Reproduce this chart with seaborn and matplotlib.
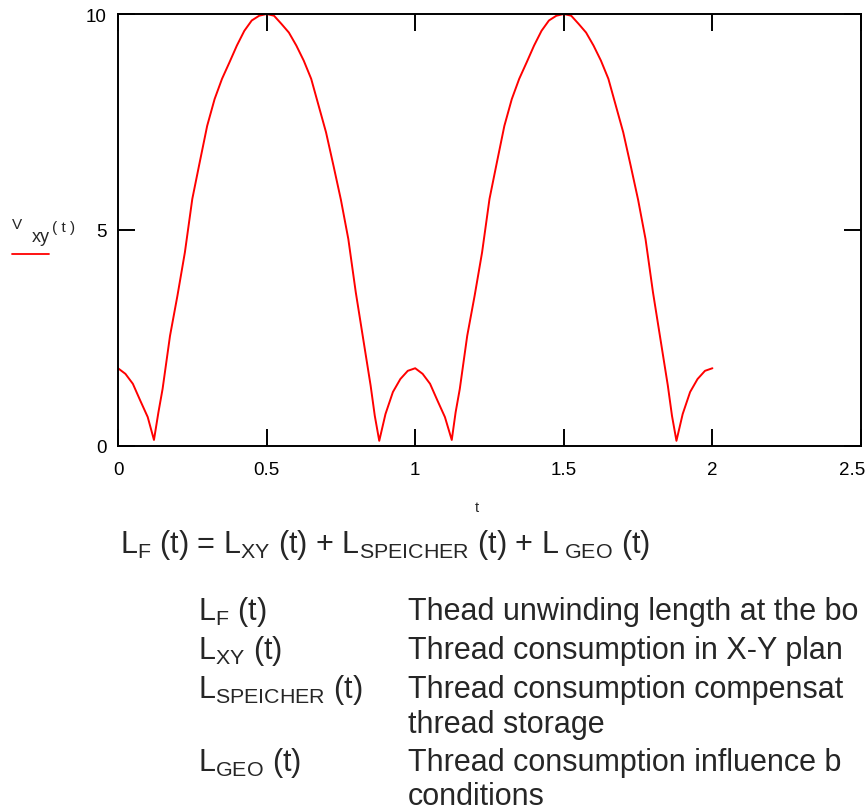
import matplotlib
matplotlib.use("Agg")
import matplotlib.pyplot as plt
from matplotlib import font_manager
from matplotlib.lines import Line2D
from matplotlib.transforms import ScaledTranslation
import pandas as pd
import seaborn as sns

# V_xy(t)
T = [0.0, 0.025, 0.05, 0.075, 0.1, 0.121, 0.136, 0.15, 0.175, 0.2, 0.225,
     0.25, 0.275, 0.3, 0.325, 0.35, 0.375, 0.4, 0.425, 0.45, 0.475, 0.5,
     0.525, 0.55, 0.575, 0.6, 0.625, 0.65, 0.675, 0.7, 0.725, 0.75, 0.775,
     0.8, 0.825, 0.85, 0.864, 0.879, 0.9, 0.925, 0.95, 0.975, 1.0,
     1.025, 1.05, 1.075, 1.1, 1.123, 1.136, 1.15, 1.175, 1.2, 1.225,
     1.25, 1.275, 1.3, 1.325, 1.35, 1.375, 1.4, 1.425, 1.45, 1.475, 1.5,
     1.525, 1.55, 1.575, 1.6, 1.625, 1.65, 1.675, 1.7, 1.725, 1.75, 1.775,
     1.8, 1.825, 1.85, 1.864, 1.879, 1.9, 1.925, 1.95, 1.975, 2.0]
V_XY = [1.80, 1.67, 1.44, 1.05, 0.67, 0.14, 0.78, 1.32, 2.55, 3.48, 4.48,
        5.72, 6.57, 7.41, 8.03, 8.50, 8.88, 9.27, 9.61, 9.85, 9.96, 10.0,
        9.96, 9.77, 9.57, 9.27, 8.92, 8.50, 7.88, 7.26, 6.49, 5.70, 4.79,
        3.56, 2.48, 1.40, 0.70, 0.12, 0.74, 1.25, 1.55, 1.74, 1.80,
        1.67, 1.44, 1.05, 0.67, 0.14, 0.78, 1.32, 2.55, 3.48, 4.48,
        5.72, 6.57, 7.41, 8.03, 8.50, 8.88, 9.27, 9.61, 9.85, 9.96, 10.0,
        9.96, 9.77, 9.57, 9.27, 8.92, 8.50, 7.88, 7.26, 6.49, 5.70, 4.79,
        3.56, 2.48, 1.40, 0.70, 0.12, 0.74, 1.25, 1.55, 1.74, 1.80]

X_TICKS = [0, 0.5, 1, 1.5, 2, 2.5]
X_TICK_LABELS = ["0", "0.5", "1", "1.5", "2", "2.5"]
Y_TICKS = [0, 5, 10]
Y_TICK_LABELS = ["0", "5", "10"]

FORMULA = (r"$\mathrm{L_{F}}$ (t) = $\mathrm{L_{XY}}$ (t) + "
           r"$\mathrm{L_{SPEICHER}}$ (t) + $\mathrm{L_{\ GEO}}$ (t)")
TERMS = [r"$\mathrm{L_{F}}$ (t)", r"$\mathrm{L_{XY}}$ (t)",
         r"$\mathrm{L_{SPEICHER}}$ (t)", "", r"$\mathrm{L_{GEO}}$ (t)", ""]
# the reference crops these lines at the right edge
DESCRIPTIONS = ["Thead unwinding length at the bo",
                "Thread consumption in X-Y plan",
                "Thread consumption compensat",
                "thread storage",
                "Thread consumption influence b",
                "conditions"]

W, H = 868, 812

sns.set_style("white")
names = {f.name for f in font_manager.fontManager.ttflist}
narrow = "Liberation Sans Narrow" if "Liberation Sans Narrow" in names else "Liberation Sans"
plt.rcParams["font.family"] = ["Liberation Sans", "DejaVu Sans"]
plt.rcParams["mathtext.fontset"] = "custom"
plt.rcParams["mathtext.rm"] = narrow
plt.rcParams["mathtext.it"] = narrow


def fx(px):
    return px / W


def fy(py):
    return 1 - py / H


df = pd.DataFrame({"t": T, "v": V_XY})

fig = plt.figure(figsize=(W / 100, H / 100), dpi=100)
ax = fig.add_axes([fx(118), fy(447), (861 - 118) / W, (447 - 15) / H])
sns.lineplot(data=df, x="t", y="v", ax=ax, color="#ff0000", lw=1.4, sort=False)

ax.set_xlim(0, 2.5)
ax.set_ylim(0, 10)
ax.set_xticks(X_TICKS, X_TICK_LABELS)
ax.set_yticks(Y_TICKS, Y_TICK_LABELS)
ax.tick_params(direction="in", length=12, width=1.4, bottom=True, left=True,
               top=True, right=True, labelsize=13.5, colors="black")
ax.tick_params(axis="x", pad=11)
ax.tick_params(axis="y", pad=8)
for s in ax.spines.values():
    s.set_color("black")
    s.set_linewidth(1.4)
ax.set_xlabel("")
ax.set_ylabel("")

# keep the last x label inside the figure edge
last = ax.get_xticklabels()[-1]
last.set_transform(last.get_transform() + ScaledTranslation(-0.09, 0, fig.dpi_scale_trans))

# x label and Mathcad-style y label
fig.text(fx(477), fy(508), "t", fontsize=10.5, ha="center", va="center")
fig.text(fx(12), fy(225), "V", fontsize=11, ha="left", va="center")
fig.text(fx(32), fy(237), "xy", fontsize=13, ha="left", va="center")
fig.text(fx(52), fy(228), "( t )", fontsize=11, ha="left", va="center")
fig.add_artist(Line2D([fx(12), fx(49)], [fy(255), fy(255)], color="#ff0000", lw=1.3))

txt = dict(fontsize=22, family=[narrow, "DejaVu Sans"], va="center", ha="left")
fig.text(fx(120), fy(545), FORMULA, **txt)

rows_y = [612, 651, 690, 725, 763, 797]
for yy, term, desc in zip(rows_y, TERMS, DESCRIPTIONS):
    if term:
        fig.text(fx(198), fy(yy), term, **txt)
    fig.text(fx(408), fy(yy), desc, **txt)

fig.savefig("out.png", dpi=100)
plt.close(fig)
